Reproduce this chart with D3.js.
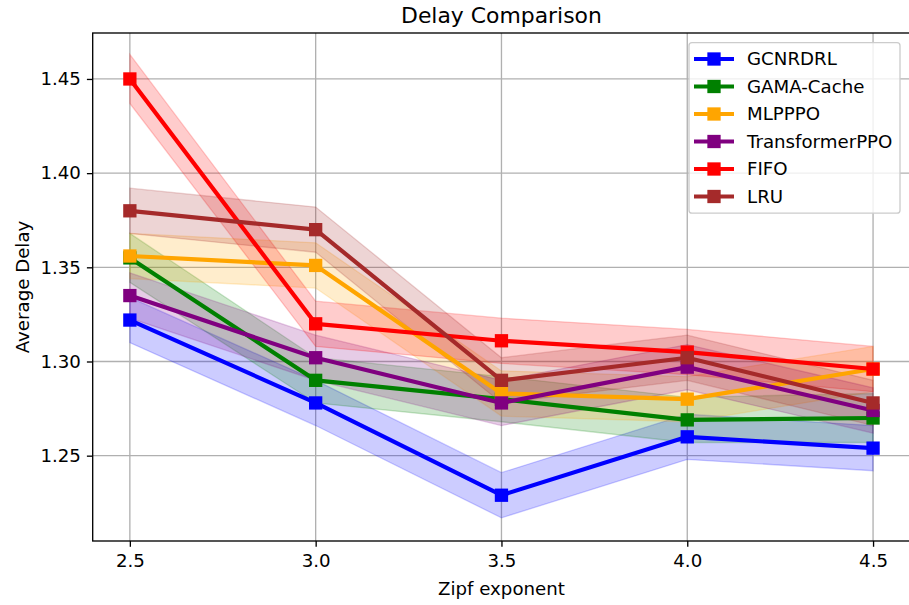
<!DOCTYPE html>
<html>
<head>
<meta charset="utf-8">
<script src="https://cdn.jsdelivr.net/npm/d3@7"></script>
<style>
    body { margin: 0; background: #fff; }
    svg { display: block; font-family: "DejaVu Sans", sans-serif; }
</style>
</head>
<body>
<div id="chart"></div>
<script>
// x values (Zipf exponent)
let zipf = [2.5, 3.0, 3.5, 4.0, 4.5];

let methods = ['GCNRDRL', 'GAMA-Cache', 'MLPPPO', 'TransformerPPO', 'FIFO', 'LRU'];
let colors = ['#0000ff', '#008000', '#ffa500', '#800080', '#ff0000', '#a52a2a'];

// mean delay per method
let gcnrdrl = [1.322, 1.278, 1.229, 1.260, 1.254];
let gamaCache = [1.355, 1.290, 1.280, 1.269, 1.270];
let mlpppo = [1.356, 1.351, 1.283, 1.280, 1.296];
let transformerPpo = [1.335, 1.302, 1.278, 1.297, 1.274];
let fifo = [1.450, 1.320, 1.311, 1.305, 1.296];
let lru = [1.380, 1.370, 1.290, 1.302, 1.278];

// spread (shaded band half-width)
let gcnrdrlStd = [0.012, 0.012, 0.012, 0.012, 0.012];
let gamaCacheStd = [0.013, 0.012, 0.012, 0.012, 0.013];
let mlpppoStd = [0.012, 0.012, 0.012, 0.012, 0.012];
let transformerPpoStd = [0.012, 0.012, 0.012, 0.012, 0.012];
let fifoStd = [0.013, 0.012, 0.012, 0.012, 0.012];
let lruStd = [0.012, 0.012, 0.012, 0.012, 0.012];

let yTicks = [1.25, 1.30, 1.35, 1.40, 1.45];

let means = [gcnrdrl, gamaCache, mlpppo, transformerPpo, fifo, lru];
let stds = [gcnrdrlStd, gamaCacheStd, mlpppoStd, transformerPpoStd, fifoStd, lruStd];

let series = methods.map(function(m, i) {
    return {
        name: m,
        color: colors[i],
        values: zipf.map(function(x, j) {
            return { x: x, y: means[i][j], s: stds[i][j] };
        })
    };
});

let width = 909,
    height = 605,
    margin = { top: 33, left: 92.7, bottom: 64 };

let fs = 18.2;

let svg = d3.select('#chart').append('svg')
    .attr('width', width)
    .attr('height', height);

let x = d3.scaleLinear()
    .domain([2.4, 4.6])
    .range([margin.left, margin.left + 2.2 * 371.6]);

let y = d3.scaleLinear()
    .domain([1.2047, 1.4744])
    .range([height - margin.bottom, margin.top]);

let x0 = x.range()[0], x1 = x.range()[1];
let y0 = y.range()[0], y1 = y.range()[1];

// grid
let grid = svg.append('g');
grid.selectAll('.gx').data(zipf).enter()
    .append('line')
    .attr('x1', function(d) { return x(d); })
    .attr('x2', function(d) { return x(d); })
    .attr('y1', y0).attr('y2', y1)
    .attr('stroke', '#b0b0b0').attr('stroke-width', 1.33);
grid.selectAll('.gy').data(yTicks).enter()
    .append('line')
    .attr('x1', x0).attr('x2', x1)
    .attr('y1', function(d) { return y(d); })
    .attr('y2', function(d) { return y(d); })
    .attr('stroke', '#b0b0b0').attr('stroke-width', 1.33);

// bands first (drawn under every line, like matplotlib collections)
let area = d3.area()
    .x(function(d) { return x(d.x); })
    .y0(function(d) { return y(d.y - d.s); })
    .y1(function(d) { return y(d.y + d.s); });

svg.append('g').selectAll('path')
    .data(series).enter()
    .append('path')
    .attr('d', function(d) { return area(d.values); })
    .attr('fill', function(d) { return d.color; })
    .attr('fill-opacity', 0.2)
    .attr('stroke', function(d) { return d.color; })
    .attr('stroke-opacity', 0.2)
    .attr('stroke-width', 1.3);

let line = d3.line()
    .x(function(d) { return x(d.x); })
    .y(function(d) { return y(d.y); });

let ms = 13.3;
let sg = svg.append('g').selectAll('g')
    .data(series).enter()
    .append('g');

sg.append('path')
    .attr('d', function(d) { return line(d.values); })
    .attr('fill', 'none')
    .attr('stroke', function(d) { return d.color; })
    .attr('stroke-width', 4.2)
    .attr('stroke-linejoin', 'round');

sg.selectAll('rect')
    .data(function(d) { return d.values.map(function(v) { return { v: v, c: d.color }; }); })
    .enter()
    .append('rect')
    .attr('x', function(d) { return x(d.v.x) - ms / 2; })
    .attr('y', function(d) { return y(d.v.y) - ms / 2; })
    .attr('width', ms).attr('height', ms)
    .attr('fill', function(d) { return d.c; });

// axes
let xAxis = d3.axisBottom(x).tickValues(zipf).tickFormat(d3.format('.1f')).tickSize(5.8).tickPadding(7);
let yAxis = d3.axisLeft(y).tickValues(yTicks).tickFormat(d3.format('.2f')).tickSize(5.8).tickPadding(6);

let gx = svg.append('g').attr('transform', 'translate(0,' + y0 + ')').call(xAxis);
let gy = svg.append('g').attr('transform', 'translate(' + x0 + ',0)').call(yAxis);
[gx, gy].forEach(function(g) {
    g.select('.domain').remove();
    g.selectAll('line').attr('stroke', '#000').attr('stroke-width', 1.33);
    g.selectAll('text').attr('font-size', fs).attr('fill', '#000')
        .attr('font-family', '"DejaVu Sans", sans-serif');
});

// spines
svg.append('rect')
    .attr('x', x0).attr('y', y1)
    .attr('width', x1 - x0).attr('height', y0 - y1)
    .attr('fill', 'none').attr('stroke', '#000').attr('stroke-width', 1.33);

// labels
svg.append('text')
    .attr('x', (x0 + x1) / 2).attr('y', 23)
    .attr('text-anchor', 'middle')
    .attr('font-size', 21.9)
    .text('Delay Comparison');

svg.append('text')
    .attr('x', (x0 + x1) / 2).attr('y', 595)
    .attr('text-anchor', 'middle')
    .attr('font-size', fs)
    .text('Zipf exponent');

svg.append('text')
    .attr('transform', 'translate(29,' + (y0 + y1) / 2 + ') rotate(-90)')
    .attr('text-anchor', 'middle')
    .attr('font-size', fs)
    .text('Average Delay');

// legend
let lg = svg.append('g');
lg.append('rect')
    .attr('x', 689).attr('y', 42.7)
    .attr('width', 211).attr('height', 170.5)
    .attr('rx', 3)
    .attr('fill', '#fff').attr('fill-opacity', 0.8)
    .attr('stroke', '#cccccc').attr('stroke-width', 1.33);

let item = lg.selectAll('.item')
    .data(series).enter()
    .append('g')
    .attr('transform', function(d, i) { return 'translate(0,' + (59 + i * 27.5) + ')'; });

item.append('line')
    .attr('x1', 694).attr('x2', 734)
    .attr('stroke', function(d) { return d.color; })
    .attr('stroke-width', 4.2);
item.append('rect')
    .attr('x', 714 - ms / 2).attr('y', -ms / 2)
    .attr('width', ms).attr('height', ms)
    .attr('fill', function(d) { return d.color; });
item.append('text')
    .attr('x', 747).attr('dy', '0.35em')
    .attr('font-size', fs)
    .text(function(d) { return d.name; });
</script>
</body>
</html>
